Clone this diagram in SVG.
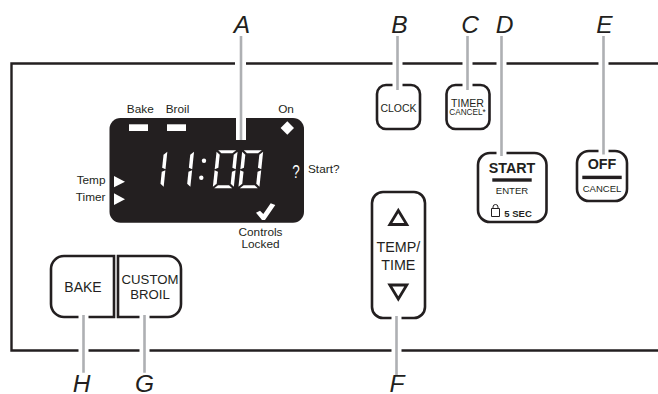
<svg xmlns="http://www.w3.org/2000/svg" width="658" height="394" viewBox="0 0 658 394">
<style>
text{font-family:"Liberation Sans",Arial,sans-serif;fill:#231f20}
.l{font-size:24.500px;font-style:italic;text-anchor:middle}
.s{font-size:11.800px}
.m{text-anchor:middle}
.b{fill:#fff;stroke:#231f20;stroke-width:2.600}
.p{fill:none;stroke:#231f20;stroke-width:2.400}
.c{fill:none;stroke:#aeb0b3;stroke-width:2.600}
.h{fill:none;stroke:#fff;stroke-width:10}
.w{fill:#fff}
.t{fill:none;stroke:#231f20;stroke-width:2.800}
</style>
<defs>
<g id="zero" class="w">
<path d="M1.500,0H19.500L16,3H5Z"/><path d="M1.500,38H19.500L16,35H5Z"/>
<path d="M0,1.500L3.500,4.500V17.500L0,19Z"/><path d="M0,20L3.500,21.500V33.500L0,36.500Z"/>
<path d="M21,1.500L17.500,4.500V17.500L21,19Z"/><path d="M21,20L17.500,21.500V33.500L21,36.500Z"/>
</g>
<g id="one" class="w">
<path d="M21,1.500L17.500,4.500V17.500L21,19Z"/><path d="M21,20L17.500,21.500V33.500L21,36.500Z"/>
</g>
</defs>
<g id="panel"><path class="p" d="M235,63.500H11.500V350.500H658M658,63.500H246"/></g>
<g id="display">
<rect x="109.500" y="118" width="194.500" height="104.700" rx="11" fill="#231f20"/>
<rect x="129" y="124.300" width="19" height="6.700" class="w"/>
<rect x="167" y="124.300" width="19" height="6.700" class="w"/>
<path class="w" d="M287.300,121.300L294,128L287.300,134.700L280.600,128Z"/>
<use href="#one" transform="translate(146.500,150.300) skewX(-6)"/>
<use href="#one" transform="translate(173.200,150.300) skewX(-6)"/>
<circle cx="204" cy="160.700" r="2.200" class="w"/><circle cx="201.300" cy="177.700" r="2.200" class="w"/>
<use href="#zero" transform="translate(216.700,150.300) skewX(-6)"/>
<use href="#zero" transform="translate(242.300,150.300) skewX(-6)"/>
<path class="w" d="M114,176L125,181.700L114,187.300Z"/>
<path class="w" d="M114,193.300L125,199.300L114,205Z"/>
<text transform="translate(296,178) scale(.75,1)" class="m" font-size="18" style="fill:#fff">?</text>
<path class="w" d="M256,212.700L260,210.700L263.300,214L270.700,203.300L275.300,205L265,220H262Z"/>
</g>
<g id="labels">
<text x="140.300" y="113" class="s m">Bake</text><text x="177.500" y="113" class="s m">Broil</text>
<text x="286" y="113" class="s m">On</text><text x="308" y="173" class="s">Start?</text>
<text x="105.500" y="184" class="s" text-anchor="end">Temp</text><text x="105.500" y="201" class="s" text-anchor="end">Timer</text>
<text x="260.500" y="236" class="s m">Controls</text><text x="260.500" y="248" class="s m">Locked</text>
</g>
<g id="clock"><rect class="b" x="377" y="85" width="43" height="44" rx="9"/><text x="398.500" y="111.700" class="m" font-size="10.500">CLOCK</text></g>
<g id="timer"><rect class="b" x="446.500" y="85" width="43" height="44" rx="9"/><text x="467.500" y="106.700" class="m" font-size="10.600">TIMER</text><text x="467.500" y="115" class="m" font-size="8.200">CANCEL*</text></g>
<g id="start"><rect class="b" x="478" y="153" width="68.500" height="69" rx="12"/>
<text x="512" y="172.700" class="m" font-size="14.300" font-weight="bold">START</text><rect x="492.300" y="178.300" width="39.400" height="3.400" fill="#231f20"/>
<text x="512" y="194.300" class="m" font-size="9.600">ENTER</text>
<path d="M491.500,208.500h8v8h-8zM493,208.500v-1.500a2.500,2.500 0 0 1 5,0v1.500" fill="none" stroke="#231f20"/>
<text x="504.300" y="216.700" font-size="9.500" font-weight="bold">5 SEC</text></g>
<g id="off"><rect class="b" x="577" y="151" width="50" height="50" rx="12"/>
<text x="602" y="169" class="m" font-size="14.300" font-weight="bold">OFF</text><rect x="582.300" y="175.700" width="39.400" height="3.400" fill="#231f20"/>
<text x="602" y="191.700" class="m" font-size="9.500">CANCEL</text></g>
<g id="temp"><rect class="b" x="372" y="192" width="53" height="126" rx="11"/>
<path class="t" d="M398.300,210.500L389.800,224.500H406.800Z"/>
<path class="t" d="M398.300,299L389.800,285H406.800Z"/>
<text x="398.300" y="251.700" class="m" font-size="14.300">TEMP/</text><text x="398.300" y="270" class="m" font-size="14.300">TIME</text></g>
<g id="bake"><path class="b" d="M114,256H64a13,13 0 0 0-13,13V304a13,13 0 0 0 13,13H114Z"/><text x="83" y="292.300" class="m" font-size="14">BAKE</text></g>
<g id="broil"><path class="b" d="M118,256H168a13,13 0 0 1 13,13V304a13,13 0 0 1-13,13H118Z"/><text x="150" y="284.300" class="m" font-size="13.200">CUSTOM</text><text x="150" y="299" class="m" font-size="13.200">BROIL</text></g>
<g id="connectors">
<path class="h" d="M241,58V140M397.500,58V90M467.500,58V90M501.500,58V156M603.500,58V154.500M396.500,316V356M83.500,315V356M144.500,315V356"/>
<path class="c" d="M241,36V140M397.500,36V90M467.500,36V90M501.500,36V156M603.500,36V154.500M396.500,316V375M83.500,315V372.700M144.500,315V372.700"/>
</g>
<g id="letters">
<text x="242" y="32.700" class="l">A</text><text x="399.300" y="32.700" class="l">B</text><text x="470" y="32.700" class="l">C</text><text x="504.500" y="32.700" class="l">D</text><text x="604.500" y="32.700" class="l">E</text>
<text x="397" y="392.300" class="l">F</text><text x="144.500" y="392.300" class="l">G</text><text x="81.500" y="392.300" class="l">H</text>
</g>
</svg>
